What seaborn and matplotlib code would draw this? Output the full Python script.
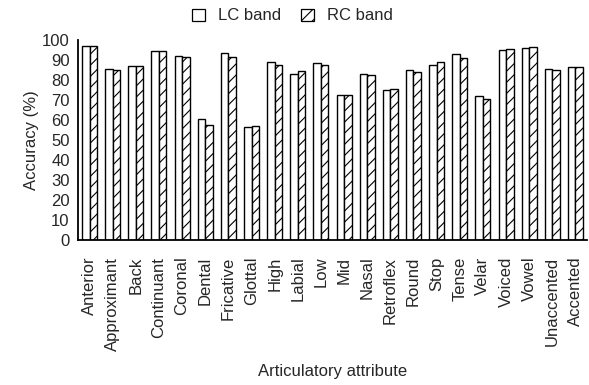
import matplotlib
matplotlib.use("Agg")
import matplotlib.pyplot as plt
import seaborn as sns
import pandas as pd
from matplotlib.patches import Patch

categories = ["Anterior", "Approximant", "Back", "Continuant", "Coronal", "Dental",
              "Fricative", "Glottal", "High", "Labial", "Low", "Mid", "Nasal",
              "Retroflex", "Round", "Stop", "Tense", "Velar", "Voiced", "Vowel",
              "Unaccented", "Accented"]
lc_band = [97.2, 85.7, 86.8, 94.7, 92.2, 60.3, 93.3, 56.5, 88.8, 83.0, 88.3, 72.7,
           83.2, 74.8, 85.0, 87.7, 92.8, 71.8, 94.8, 96.2, 85.7, 86.3]
rc_band = [97.2, 84.8, 86.8, 94.7, 91.5, 57.7, 91.5, 57.2, 87.7, 84.3, 87.7, 72.7,
           82.3, 75.3, 83.8, 89.0, 90.8, 70.7, 95.5, 96.7, 85.0, 86.3]
series = ["LC band", "RC band"]

df = pd.DataFrame({
    "attr": categories * 2,
    "acc": lc_band + rc_band,
    "band": [series[0]] * len(categories) + [series[1]] * len(categories),
})

sns.set_style("white")
plt.rcParams["font.family"] = ["Liberation Sans", "DejaVu Sans"]
plt.rcParams["hatch.linewidth"] = 0.8

fig = plt.figure(figsize=(5.89, 3.85), dpi=100)
ax = fig.add_axes([78 / 589, 1 - 240 / 385, 509 / 589, 200 / 385])

sns.barplot(data=df, x="attr", y="acc", hue="band", order=categories,
            hue_order=series, palette=["white", "white"], edgecolor="black",
            linewidth=1.0, width=0.65, gap=0, ax=ax, legend=False)
for bar in ax.containers[1]:
    bar.set_hatch("///")

ax.set_ylim(0, 100)
ax.set_xlim(-0.5, len(categories) - 0.5)
ax.set_yticks(range(0, 101, 10))
ax.set_xticks(range(len(categories)))
ax.set_xticklabels(categories, rotation=90, fontsize=12)
ax.set_xticks([i - 0.5 for i in range(len(categories) + 1)], minor=True)
ax.tick_params(axis="x", which="major", length=0, pad=12)
ax.tick_params(axis="x", which="minor", length=5, width=1.2, direction="out", color="black")
ax.tick_params(axis="y", length=4, width=1.2, direction="out", color="black", labelsize=12, pad=2)
for s in ["top", "right"]:
    ax.spines[s].set_visible(False)
for s in ["left", "bottom"]:
    ax.spines[s].set_color("black")
    ax.spines[s].set_linewidth(1.3)

ax.set_xlabel("Articulatory attribute", fontsize=12, labelpad=10)
ax.set_ylabel("Accuracy (%)", fontsize=12, labelpad=2)

handles = [Patch(facecolor="white", edgecolor="black", linewidth=0.9, label=series[0]),
           Patch(facecolor="white", edgecolor="black", linewidth=0.9, hatch="///", label=series[1])]
fig.legend(handles=handles, loc="center", bbox_to_anchor=(0.497, 1 - 16 / 385), ncol=2,
           frameon=False, fontsize=12, handlelength=0.75, handleheight=0.75,
           columnspacing=1.2, handletextpad=0.8)

fig.savefig("out.png", dpi=100)
